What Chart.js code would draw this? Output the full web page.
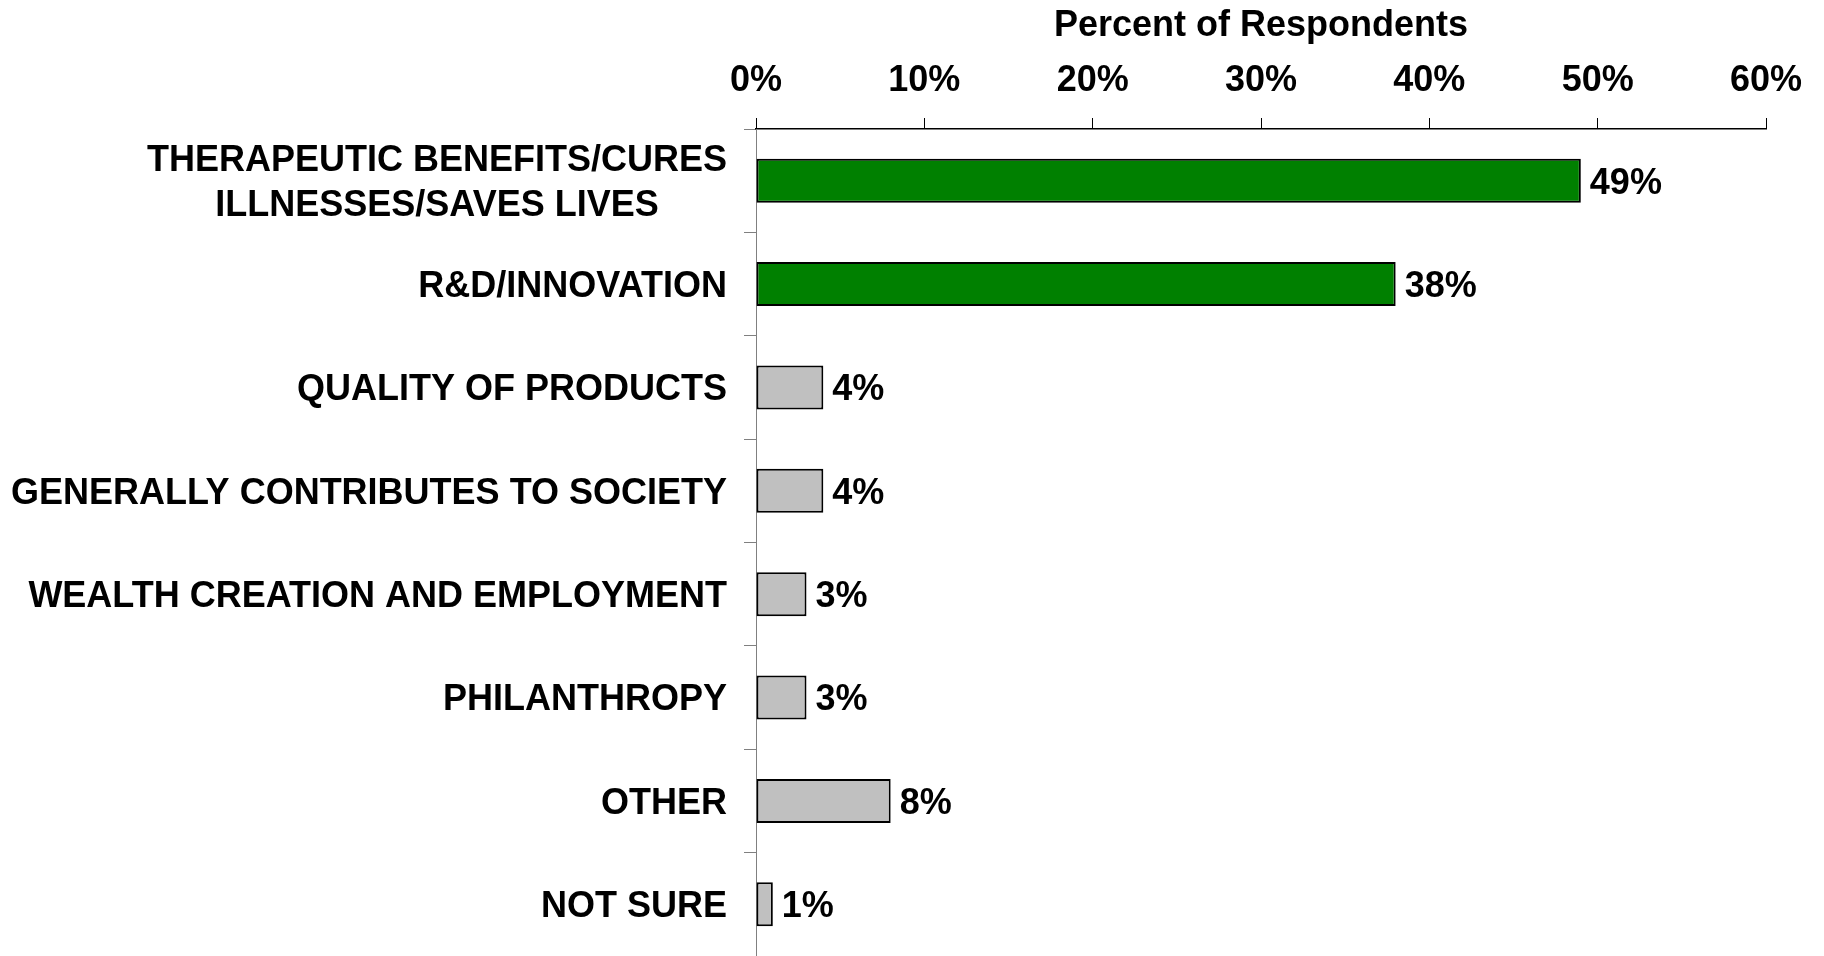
<!DOCTYPE html>
<html>
<head>
<meta charset="utf-8">
<title>Percent of Respondents</title>
<script src="https://cdn.jsdelivr.net/npm/chart.js@4"></script>
<style>
  html, body { margin: 0; padding: 0; background: #fff; }
  canvas { display: block; }
</style>
</head>
<body>
<canvas id="myChart" width="1824" height="956"></canvas>
<script>
// reasons, top to bottom
const categories = [
  ["THERAPEUTIC BENEFITS/CURES", "ILLNESSES/SAVES LIVES"],
  "R&D/INNOVATION",
  "QUALITY OF PRODUCTS",
  "GENERALLY CONTRIBUTES TO SOCIETY",
  "WEALTH CREATION AND EMPLOYMENT",
  "PHILANTHROPY",
  "OTHER",
  "NOT SURE",
];
const percents = [49, 38, 4, 4, 3, 3, 8, 1];
const topTwo = [true, true, false, false, false, false, false, false];
const xTickValues = [0, 10, 20, 30, 40, 50, 60];

const FONT = "'Liberation Sans', Arial, sans-serif";
const SIZE = 36;
const CAP = SIZE * 0.716; // cap height of Arial-like fonts

/* draws the category names (multi-line ones centred on each other)
   and the percentage at the end of each bar */
const barLabels = {
  id: "barLabels",
  afterDatasetsDraw(chart) {
    const ctx = chart.ctx;
    const yScale = chart.scales.y;
    const meta = chart.getDatasetMeta(0);
    ctx.save();
    ctx.font = `bold ${SIZE}px ${FONT}`;
    ctx.fillStyle = "#000";
    ctx.textBaseline = "alphabetic";
    meta.data.forEach((bar, i) => {
      ctx.textAlign = "left";
      ctx.fillText(percents[i] + "%", bar.x + 9, bar.y + CAP / 2);

      const lines = [].concat(categories[i]);
      const widest = Math.max(...lines.map((l) => ctx.measureText(l).width));
      const cx = yScale.right - 29 - widest / 2;
      const cy = yScale.getPixelForValue(i);
      ctx.textAlign = "center";
      lines.forEach((line, j) => {
        const ly = cy + (j - (lines.length - 1) / 2) * 45;
        ctx.fillText(line, cx, ly + CAP / 2);
      });
    });
    ctx.restore();
  },
};

function mainEvent() {
  const target = document.querySelector("#myChart");

  const data = {
    labels: categories,
    datasets: [
      {
        data: percents,
        backgroundColor: topTwo.map((t) => (t ? "#008000" : "#C0C0C0")),
        borderColor: "#000000",
        borderWidth: 2,
        borderSkipped: false,
        categoryPercentage: 1,
        barPercentage: 0.425,
      },
    ],
  };

  const config = {
    type: "bar",
    data: data,
    plugins: [barLabels],
    options: {
      indexAxis: "y",
      responsive: false,
      animation: false,
      layout: { padding: { left: 0, right: 58, top: 0, bottom: 0 } },
      plugins: {
        legend: { display: false },
        tooltip: { enabled: false },
      },
      scales: {
        x: {
          position: "top",
          min: 0,
          max: 60,
          afterBuildTicks: (scale) => {
            scale.ticks = xTickValues.map((v) => ({ value: v }));
          },
          afterFit: (scale) => {
            scale.height = 129;
          },
          ticks: {
            color: "#000",
            padding: 15,
            maxRotation: 0,
            font: { family: FONT, size: SIZE, weight: "bold", lineHeight: 1.2 },
            callback: (v) => v + "%",
          },
          grid: {
            drawOnChartArea: false,
            tickLength: 11,
            color: "#000",
            lineWidth: 1,
          },
          border: { display: true, color: "#000", width: 1.5 },
          title: {
            display: true,
            text: "Percent of Respondents",
            color: "#000",
            padding: { top: 4, bottom: 0 },
            font: { family: FONT, size: SIZE, weight: "bold", lineHeight: 1.2 },
          },
        },
        y: {
          afterFit: (scale) => {
            scale.width = 756;
          },
          ticks: { display: false },
          grid: {
            offset: true,
            drawOnChartArea: false,
            tickLength: 12,
            color: "#808080",
            lineWidth: 1,
          },
          border: { display: true, color: "#808080", width: 1 },
        },
      },
    },
  };

  new Chart(target, config);
}

document.addEventListener("DOMContentLoaded", () => mainEvent());
</script>
</body>
</html>
